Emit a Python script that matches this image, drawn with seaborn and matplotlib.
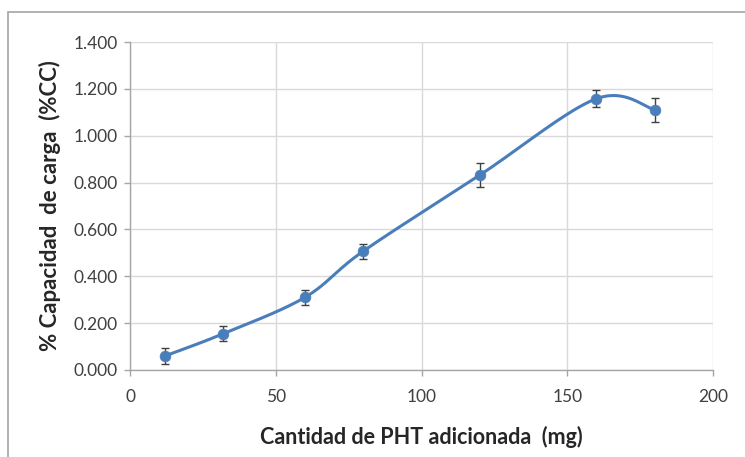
import numpy as np
import pandas as pd
import matplotlib
matplotlib.use("Agg")
import matplotlib.pyplot as plt
import seaborn as sns
from matplotlib.patches import Rectangle

# Data
pht_mg = [12, 32, 60, 80, 120, 160, 180]
capacidad = [0.060, 0.155, 0.310, 0.507, 0.832, 1.158, 1.110]
error = [0.035, 0.032, 0.032, 0.032, 0.050, 0.035, 0.050]
x_ticks = [0, 50, 100, 150, 200]
y_ticks = [0.0, 0.2, 0.4, 0.6, 0.8, 1.0, 1.2, 1.4]

df = pd.DataFrame({"x": pht_mg, "y": capacidad, "err": error})

sns.set_theme(style="white")
plt.rcParams["font.family"] = ["Lato", "DejaVu Sans"]

fig = plt.figure(figsize=(7.45, 4.57), dpi=100)
ax = fig.add_axes([130/745, 1 - 370/457, (713-130)/745, (370-42)/457])

# Smoothed curve (Bezier smoothing like Excel), built from the data points
def smooth(xs, ys, n=40):
    P = np.column_stack([xs, ys]).astype(float)
    out = []
    m = len(P)
    for i in range(m - 1):
        p0 = P[i - 1] if i > 0 else P[i]
        p1 = P[i]
        p2 = P[i + 1]
        p3 = P[i + 2] if i + 2 < m else P[i + 1]
        c1 = p1 + (p2 - p0) / 6.0
        c2 = p2 - (p3 - p1) / 6.0
        t = np.linspace(0, 1, n)[:, None]
        seg = ((1 - t) ** 3) * p1 + 3 * ((1 - t) ** 2) * t * c1 + 3 * (1 - t) * t ** 2 * c2 + t ** 3 * p2
        out.append(seg if i == 0 else seg[1:])
    return np.vstack(out)

curve = smooth(df["x"].values, df["y"].values)
blue = "#4a7ebb"
sns.lineplot(x=curve[:, 0], y=curve[:, 1], ax=ax, color=blue, lw=2.2, sort=False, zorder=3)
ax.errorbar(df["x"], df["y"], yerr=df["err"], fmt="none", ecolor="#404040",
            elinewidth=1.0, capsize=3, capthick=1.0, zorder=4)
sns.scatterplot(data=df, x="x", y="y", ax=ax, color=blue, s=60, edgecolor=blue,
                linewidth=0.5, zorder=5)

ax.set_xlim(0, 200)
ax.set_ylim(0, 1.4)
ax.set_xticks(x_ticks)
ax.set_yticks(y_ticks)
ax.set_xticklabels([str(v) for v in x_ticks])
ax.set_yticklabels([f"{v:.3f}" for v in y_ticks])
ax.grid(True, color="#d9d9d9", lw=1.0)
ax.set_axisbelow(True)
for s in ["top", "right"]:
    ax.spines[s].set_visible(False)
for s in ["left", "bottom"]:
    ax.spines[s].set_color("#a6a6a6")
    ax.spines[s].set_linewidth(1.0)
ax.tick_params(axis="both", which="major", length=4, width=1.0, color="#a6a6a6",
               labelsize=12.5, labelcolor="#404040", direction="out",
               left=True, bottom=True)
ax.tick_params(axis="x", pad=10)
ax.tick_params(axis="y", pad=5)

ax.set_xlabel("Cantidad de PHT adicionada  (mg)", fontsize=15.5, fontweight="bold",
              color="#262626", labelpad=15)
ax.set_ylabel("% Capacidad  de carga  (%CC)", fontsize=16, fontweight="bold",
              color="#262626", labelpad=9)

# outer chart frame
fig.patches.append(Rectangle((8/745, -0.05), 1.0, 1 - 12/457 + 0.05,
                             transform=fig.transFigure, fill=False,
                             edgecolor="#a6a6a6", lw=1.2))

fig.savefig("out.png", dpi=100, facecolor="white")
